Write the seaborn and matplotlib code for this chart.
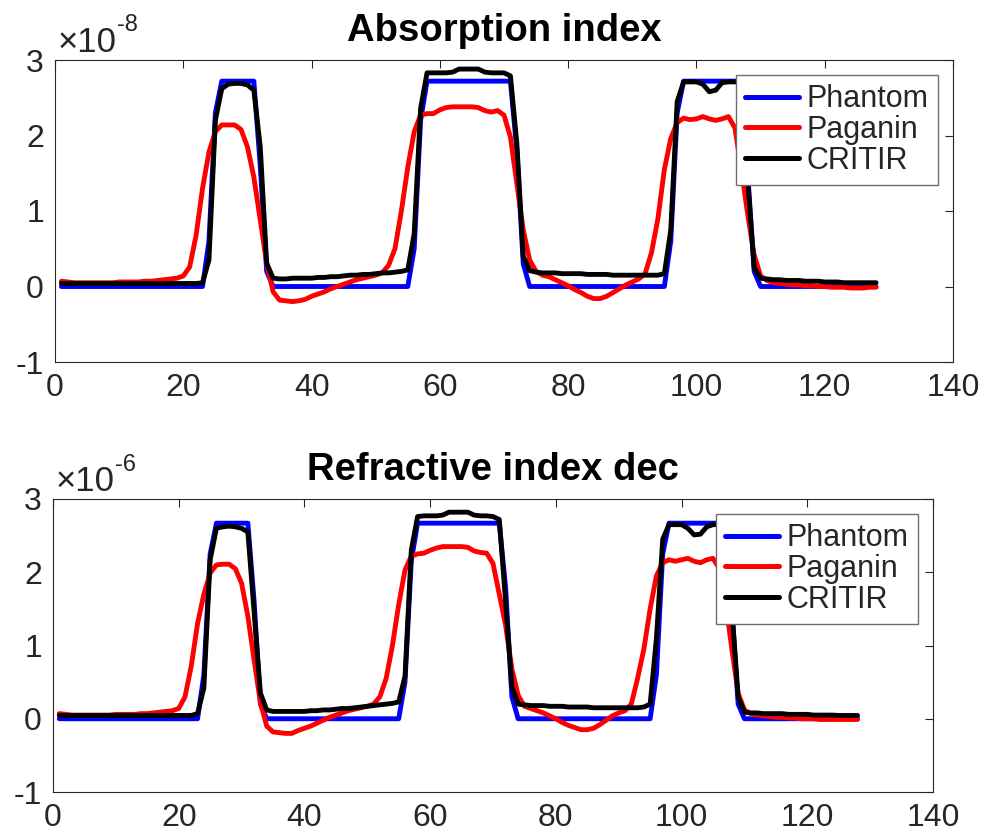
import numpy as np
import pandas as pd
import matplotlib
matplotlib.use("Agg")
import matplotlib.pyplot as plt
import seaborn as sns

# ---------------- data (values in units of the axis multiplier) ----------------
x_values = list(range(1, 129))
series_names = ["Phantom", "Paganin", "CRITIR"]
series_colors = ["#0000FF", "#FF0000", "#000000"]

# Absorption index (x 1e-8)
abs_phantom = ([0.0] * 23 + [0.6, 2.3] + [2.72] * 6 + [1.6, 0.2] + [0.0] * 22 +
               [0.5, 2.2] + [2.72] * 14 + [1.8, 0.3] + [0.0] * 22 +
               [0.6, 2.3] + [2.72] * 10 + [1.5, 0.2] + [0.0] * 19)
abs_paganin = [0.07, 0.06, 0.05, 0.05, 0.05, 0.05, 0.05, 0.05, 0.05, 0.06,
               0.06, 0.06, 0.06, 0.07, 0.07, 0.08, 0.09, 0.10, 0.11, 0.14,
               0.26, 0.68, 1.30, 1.78, 2.05, 2.14, 2.14, 2.14, 2.08, 1.85,
               1.45, 0.88, 0.31, -0.07, -0.18, -0.19, -0.20, -0.19, -0.17, -0.13,
               -0.10, -0.07, -0.03, 0.00, 0.03, 0.06, 0.09, 0.11, 0.13, 0.15,
               0.18, 0.28, 0.50, 1.00, 1.58, 2.05, 2.27, 2.29, 2.29, 2.34,
               2.37, 2.38, 2.38, 2.38, 2.38, 2.37, 2.33, 2.31, 2.33, 2.27,
               1.98, 1.37, 0.75, 0.35, 0.20, 0.15, 0.13, 0.09, 0.05, 0.01,
               -0.04, -0.08, -0.13, -0.16, -0.16, -0.13, -0.08, -0.03, 0.02, 0.06,
               0.10, 0.17, 0.45, 0.90, 1.55, 1.96, 2.17, 2.23, 2.21, 2.22,
               2.25, 2.22, 2.20, 2.22, 2.25, 2.10, 1.55, 0.95, 0.42, 0.14,
               0.08, 0.05, 0.04, 0.03, 0.02, 0.02, 0.01, 0.01, 0.00, 0.00,
               -0.01, -0.01, -0.01, -0.02, -0.02, -0.02, -0.01, -0.01]
abs_critir = [0.04, 0.04, 0.04, 0.04, 0.04, 0.04, 0.04, 0.04, 0.04, 0.04,
              0.04, 0.04, 0.04, 0.04, 0.04, 0.04, 0.04, 0.04, 0.04, 0.04,
              0.04, 0.04, 0.05, 0.35, 2.20, 2.62, 2.68, 2.69, 2.69, 2.67,
              2.60, 1.85, 0.31, 0.11, 0.10, 0.10, 0.11, 0.11, 0.11, 0.11,
              0.12, 0.12, 0.13, 0.13, 0.14, 0.15, 0.15, 0.16, 0.16, 0.17,
              0.18, 0.18, 0.19, 0.20, 0.22, 0.70, 2.36, 2.83, 2.83, 2.83,
              2.83, 2.84, 2.88, 2.88, 2.88, 2.88, 2.84, 2.83, 2.83, 2.83,
              2.79, 1.90, 0.40, 0.21, 0.19, 0.18, 0.18, 0.18, 0.17, 0.17,
              0.17, 0.17, 0.16, 0.16, 0.16, 0.16, 0.15, 0.15, 0.15, 0.15,
              0.15, 0.15, 0.15, 0.15, 0.17, 0.75, 2.45, 2.71, 2.71, 2.71,
              2.68, 2.58, 2.60, 2.70, 2.71, 2.71, 2.70, 1.40, 0.25, 0.11,
              0.10, 0.09, 0.09, 0.08, 0.08, 0.08, 0.07, 0.07, 0.07, 0.06,
              0.06, 0.06, 0.05, 0.05, 0.05, 0.05, 0.05, 0.05]

# Refractive index decrement (x 1e-6)
ref_phantom = ([0.0] * 23 + [0.6, 2.25] + [2.67] * 6 + [1.6, 0.2] + [0.0] * 22 +
               [0.5, 2.15] + [2.67] * 14 + [1.8, 0.3] + [0.0] * 22 +
               [0.6, 2.25] + [2.67] * 10 + [1.5, 0.2] + [0.0] * 19)
ref_paganin = [0.07, 0.06, 0.05, 0.05, 0.05, 0.05, 0.05, 0.05, 0.05, 0.06,
               0.06, 0.06, 0.06, 0.07, 0.07, 0.08, 0.09, 0.10, 0.11, 0.14,
               0.30, 0.72, 1.30, 1.70, 1.99, 2.10, 2.11, 2.11, 2.05, 1.85,
               1.40, 0.80, 0.22, -0.10, -0.18, -0.19, -0.20, -0.20, -0.16, -0.13,
               -0.10, -0.06, -0.02, 0.02, 0.05, 0.08, 0.11, 0.13, 0.15, 0.17,
               0.20, 0.30, 0.55, 1.00, 1.56, 2.03, 2.22, 2.25, 2.26, 2.30,
               2.33, 2.35, 2.35, 2.35, 2.35, 2.34, 2.29, 2.27, 2.26, 2.12,
               1.70, 1.28, 0.68, 0.32, 0.17, 0.14, 0.11, 0.08, 0.04, 0.00,
               -0.05, -0.09, -0.12, -0.15, -0.15, -0.13, -0.08, -0.02, 0.04, 0.08,
               0.11, 0.20, 0.55, 0.95, 1.50, 1.95, 2.13, 2.17, 2.15, 2.17,
               2.19, 2.15, 2.13, 2.17, 2.19, 2.05, 1.60, 0.95, 0.35, 0.12,
               0.07, 0.05, 0.04, 0.03, 0.02, 0.02, 0.01, 0.01, 0.00, 0.00,
               0.00, -0.01, -0.01, -0.01, -0.01, -0.01, -0.01, -0.01]
ref_critir = [0.045, 0.045, 0.045, 0.045, 0.045, 0.045, 0.045, 0.045, 0.045, 0.045,
              0.045, 0.045, 0.045, 0.045, 0.045, 0.045, 0.045, 0.045, 0.045, 0.045,
              0.045, 0.045, 0.07, 0.42, 2.17, 2.60, 2.62, 2.63, 2.62, 2.60,
              2.55, 1.45, 0.35, 0.12, 0.10, 0.10, 0.10, 0.10, 0.10, 0.10,
              0.11, 0.11, 0.12, 0.12, 0.13, 0.14, 0.14, 0.15, 0.16, 0.17,
              0.18, 0.19, 0.20, 0.21, 0.23, 0.58, 2.30, 2.76, 2.77, 2.77,
              2.77, 2.78, 2.82, 2.82, 2.82, 2.82, 2.78, 2.77, 2.77, 2.76,
              2.72, 1.60, 0.44, 0.20, 0.19, 0.18, 0.18, 0.18, 0.17, 0.17,
              0.17, 0.16, 0.16, 0.16, 0.16, 0.15, 0.15, 0.15, 0.15, 0.15,
              0.15, 0.15, 0.15, 0.16, 0.20, 1.10, 2.45, 2.65, 2.65, 2.65,
              2.60, 2.51, 2.52, 2.62, 2.65, 2.65, 2.64, 1.50, 0.30, 0.09,
              0.08, 0.08, 0.07, 0.07, 0.07, 0.07, 0.06, 0.06, 0.06, 0.06,
              0.05, 0.05, 0.05, 0.05, 0.045, 0.045, 0.045, 0.045]

x_ticks = [0, 20, 40, 60, 80, 100, 120, 140]
y_ticks = [-1, 0, 1, 2, 3]
titles = ["Absorption index", "Refractive index dec"]
multipliers = [1e-8, 1e-6]
exponents = ["-8", "-6"]

# ---------------- style ----------------
sns.set_theme(style="white")
plt.rcParams["font.family"] = ["Liberation Sans", "DejaVu Sans"]
plt.rcParams["axes.unicode_minus"] = False

fig = plt.figure(figsize=(9.86, 8.35), dpi=100)
ax_top = fig.add_axes([55 / 986, 1 - 362 / 835, 898 / 986, 302 / 835])
ax_bot = fig.add_axes([53 / 986, 1 - 792 / 835, 880 / 986, 293 / 835])

panels = [
    (ax_top, [abs_phantom, abs_paganin, abs_critir]),
    (ax_bot, [ref_phantom, ref_paganin, ref_critir]),
]

axis_grey = "#262626"
for i, (ax, data) in enumerate(panels):
    mult = multipliers[i]
    frames = []
    for name, vals in zip(series_names, data):
        frames.append(pd.DataFrame({"x": x_values,
                                    "value": np.array(vals) * mult,
                                    "series": name}))
    df = pd.concat(frames, ignore_index=True)
    sns.lineplot(data=df, x="x", y="value", hue="series",
                 hue_order=series_names, palette=series_colors,
                 linewidth=3.5, estimator=None, errorbar=None, sort=False,
                 legend=False, ax=ax)
    ax.set_xlabel("")
    ax.set_ylabel("")
    ax.set_xlim(0, 140)
    ax.set_ylim(-1 * mult, 3 * mult)
    ax.set_xticks(x_ticks)
    ax.set_xticklabels([str(t) for t in x_ticks])
    ax.set_yticks([t * mult for t in y_ticks])
    ax.set_yticklabels([str(t) for t in y_ticks])
    ax.tick_params(axis="both", which="both", direction="in", length=6,
                   width=0.8, color=axis_grey, labelcolor=axis_grey,
                   labelsize=23, top=True, right=True, pad=8)
    for sp in ax.spines.values():
        sp.set_visible(True)
        sp.set_color(axis_grey)
        sp.set_linewidth(0.8)
    ax.set_title(titles[i], fontsize=27.5, fontweight="bold", color="black",
                 pad=14)
    base = ax.text(0.0033, 1.028, "\u00d710", transform=ax.transAxes,
                   ha="left", va="baseline", fontsize=25, color=axis_grey)
    ax.annotate(exponents[i], xy=(1.0, 0.0), xycoords=base,
                xytext=(0, 19.5), textcoords="offset points",
                ha="left", va="baseline", fontsize=17, color=axis_grey)
    leg = ax.legend(ax.lines[:3], series_names, loc="upper right",
                    bbox_to_anchor=(1.0, 1.0), borderaxespad=0.5,
                    fontsize=22, handlelength=1.75, handletextpad=0.25,
                    labelspacing=0.02, borderpad=0.3, fancybox=False,
                    framealpha=1.0, edgecolor="#6e6e6e")
    leg.get_frame().set_linewidth(1.0)
    for h in leg.get_lines():
        h.set_linewidth(3.6)

fig.savefig("out.png", dpi=100)
